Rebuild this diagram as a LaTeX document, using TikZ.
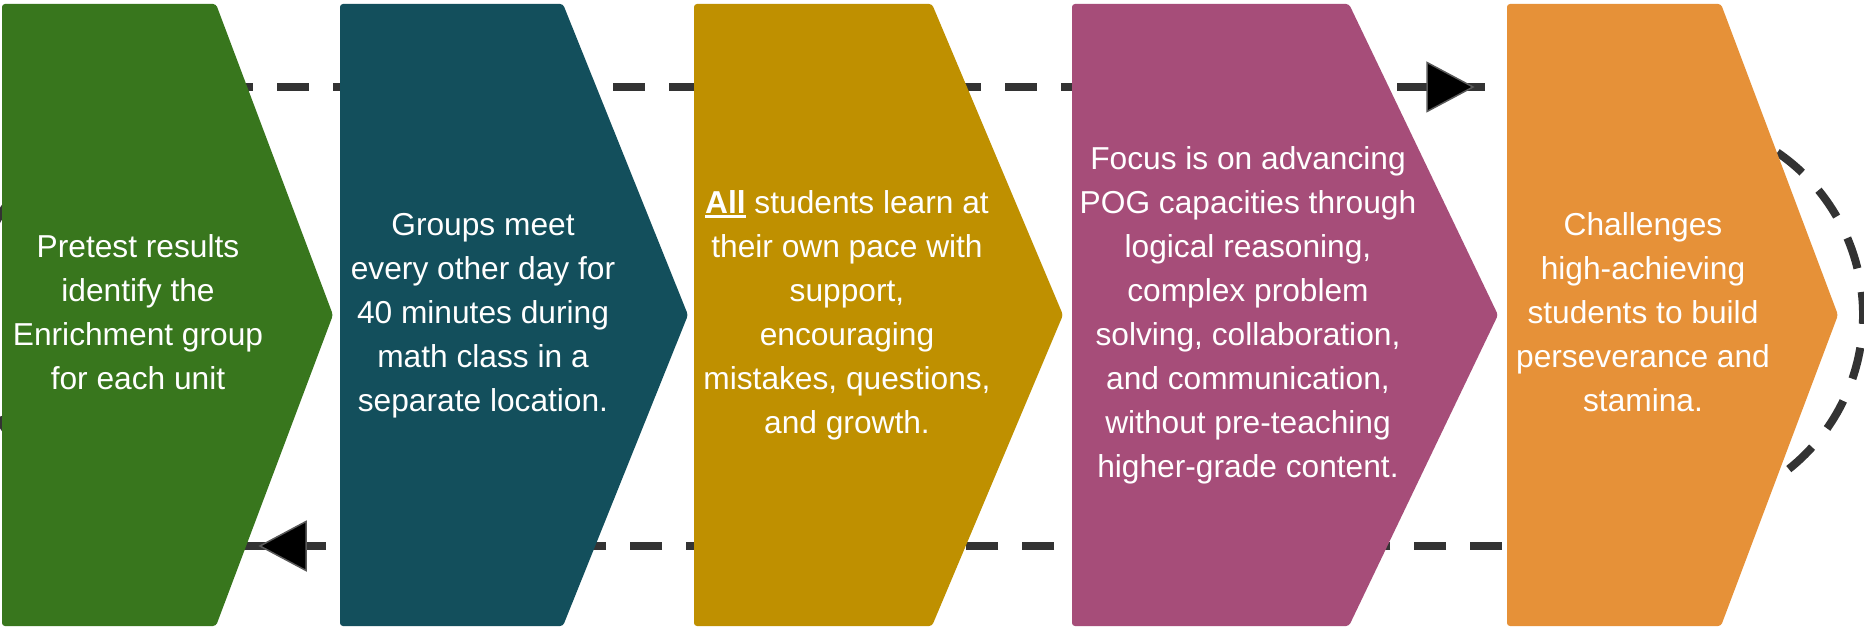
\documentclass[tikz,border=0pt]{standalone}
\usepackage{fontspec}
\setmainfont{Liberation Sans}

\definecolor{cgreen}{HTML}{38761D}
\definecolor{cteal}{HTML}{134F5C}
\definecolor{cgold}{HTML}{BF9000}
\definecolor{cplum}{HTML}{A64D79}
\definecolor{corange}{HTML}{E69138}
\definecolor{cline}{HTML}{333333}

% bold word with a heavy underline just below the baseline
\newcommand\ulword[1]{\setbox0\hbox{\bfseries #1}\rlap{\rule[-4.3pt]{\wd0}{3.3pt}}\box0\relax}

\tikzset{
  flow/.style={draw=cline, line width=8pt, dash pattern=on 32pt off 24pt},
  stepshape/.style={rounded corners=3pt},
  steptext/.style={text=white, align=center, inner sep=0pt,
    font=\fontsize{31.7}{44}\selectfont},
  headtip/.style={fill=black, draw=black!65, line width=1.5pt, line join=miter}
}

\begin{document}
\begin{tikzpicture}[x=1pt, y=1pt]
  \useasboundingbox (0,0) rectangle (1864,-628);
  \fill[white] (0,0) rectangle (1864,-628);

  % connector end points
  \coordinate (topStart) at (221,-87);
  \coordinate (topEnd)   at (1485,-87);
  \coordinate (topTip)   at (1473,-87);
  \coordinate (botStart) at (1502,-546);
  \coordinate (botEnd)   at (238,-546);
  \coordinate (botTip)   at (260,-546);
  \coordinate (loopR)    at (1666,-315);
  \coordinate (loopL)    at (168,-318);

  % dashed cycle, drawn beneath the steps
  \draw[flow] (topStart) -- (topEnd);
  \draw[flow] (botStart) -- (botEnd);
  \draw[flow] (loopR) ++(71.86:197) arc[start angle=71.86, end angle=-72, radius=197];
  \draw[flow] (loopL) ++(129:197) arc[start angle=129, end angle=232, radius=197];

  % the five steps
  \fill[cgreen, stepshape]  (2,-4)    -- (216,-4)  -- (333,-315)  -- (216,-626)  -- (2,-626)    -- cycle;
  \fill[cteal, stepshape]   (340,-4)  -- (563,-4)  -- (688,-315)  -- (563,-626)  -- (340,-626)  -- cycle;
  \fill[cgold, stepshape]   (694,-4)  -- (932,-4)  -- (1063,-315) -- (932,-626)  -- (694,-626)  -- cycle;
  \fill[cplum, stepshape]   (1072,-4) -- (1349,-4) -- (1498,-315) -- (1349,-626) -- (1072,-626) -- cycle;
  \fill[corange, stepshape] (1507,-4) -- (1721,-4) -- (1838,-315) -- (1721,-626) -- (1507,-626) -- cycle;

  % arrowheads
  \filldraw[headtip] (topTip) -- ++(-46,24.5) -- ++(0,-49) -- cycle;
  \filldraw[headtip] (botTip) -- ++(46,24.5) -- ++(0,-49) -- cycle;

  % step texts
  \node[steptext] (t1) at (138,-315)
    {\strut Pretest results\\identify the\\Enrichment group\\for each unit\strut};
  \node[steptext] (t2) at (483,-315)
    {\strut Groups meet\\every other day for\\40 minutes during\\math class in a\\separate location.\strut};
  \node[steptext] (t3) at (847,-315)
    {\strut\ulword{All} students learn at\\their own pace with\\support,\\encouraging\\mistakes, questions,\\and growth.\strut};
  \node[steptext] (t4) at (1248,-315)
    {\strut Focus is on advancing\\POG capacities through\\logical reasoning,\\complex problem\\solving, collaboration,\\and communication,\\without pre-teaching\\higher-grade content.\strut};
  \node[steptext] (t5) at (1643,-315)
    {\strut Challenges\\high-achieving\\students to build\\perseverance and\\stamina.\strut};
\end{tikzpicture}
\end{document}
